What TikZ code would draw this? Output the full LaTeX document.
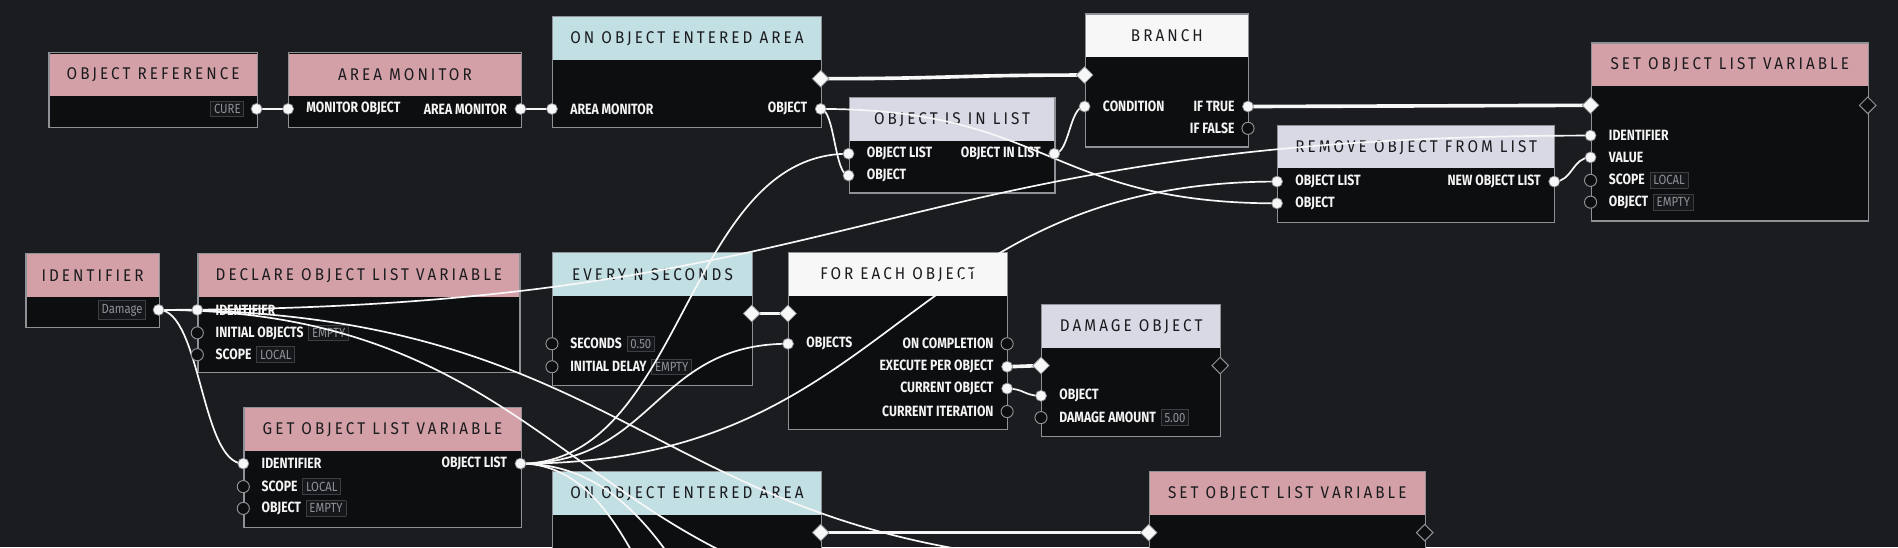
\documentclass[tikz,border=0pt]{standalone}
\usepackage{fontspec}
\usepackage{xcolor}
\usepackage{tikz}
\usetikzlibrary{positioning, shapes.geometric, calc}
\newfontfamily\titlefont[LetterSpace=18, FakeStretch=0.9]{Fira Sans}
\newfontfamily\pinfont[FakeStretch=0.82]{Fira Sans}
\newfontfamily\tagfont[FakeStretch=0.85]{Fira Sans}
\definecolor{Backdrop}{HTML}{1B1C1F}
\definecolor{Body}{HTML}{0D0E10}
\definecolor{Edge}{HTML}{8E9196}
\definecolor{Ink}{HTML}{1A1B1E}
\definecolor{Label}{HTML}{F4F4F4}
\definecolor{Wire}{HTML}{F7F7F7}
\definecolor{Rose}{HTML}{D4A0A8}
\definecolor{Ice}{HTML}{C2DFE3}
\definecolor{Lilac}{HTML}{D8D9E5}
\definecolor{Chalk}{HTML}{F7F7F7}
\definecolor{TagFill}{HTML}{16171A}
\definecolor{TagLine}{HTML}{3C3E42}
\definecolor{TagText}{HTML}{8F9196}
\newcommand\valtag[1]{{\setlength\fboxsep{2.3pt}\setlength\fboxrule{0.7pt}\fcolorbox{TagLine}{TagFill}{\tagfont\mdseries\fontsize{11}{11}\selectfont\color{TagText}#1}}}

\begin{document}
\begin{tikzpicture}[
  x=1pt, y=-1pt,
  card/.style={draw=Edge, fill=Body, line width=1pt, anchor=north west, inner sep=0pt},
  head/.style={anchor=north, inner sep=0pt, minimum height=35pt, text=Ink, font=\titlefont\fontsize{14}{14}\selectfont},
  inlbl/.style={inner sep=0pt, xshift=15pt, text=Label, font=\pinfont\bfseries\fontsize{12.3}{12.3}\selectfont},
  outlbl/.style={inner sep=0pt, xshift=-11pt, text=Label, font=\pinfont\bfseries\fontsize{12.3}{12.3}\selectfont},
  wire/.style={draw=Wire, line width=1.4pt, to path={let \p1=(\tikztostart), \p2=(\tikztotarget) in .. controls ({(\x1+\x2)/2},\y1) and ({(\x1+\x2)/2},\y2) .. (\tikztotarget)}},
  flow/.style={wire, line width=3pt},
  pin/.style={circle, fill=Wire, draw=Edge, line width=0.6pt, minimum size=9pt, inner sep=0pt},
  hole/.style={circle, fill=Body, draw=Edge, line width=0.8pt, minimum size=10pt, inner sep=0pt},
  gate/.style={diamond, fill=Wire, draw=Edge, line width=0.6pt, minimum size=14pt, inner sep=0pt},
  opengate/.style={diamond, fill=Body, draw=Edge, line width=0.8pt, minimum size=14pt, inner sep=0pt}
]
\useasboundingbox (0,0) rectangle (1568,452);
\clip (0,0) rectangle (1568,452);
\fill[Backdrop] (0,0) rectangle (1568,452);

% cards
\node[card, minimum width=172pt, minimum height=62pt] (objref) at (40,43) {};
\node[head, fill=Rose, minimum width=171pt] (objref-h) at ([yshift=-1pt]objref.north) {OBJECT REFERENCE};
\node[card, minimum width=192pt, minimum height=62pt] (areamon) at (238,43) {};
\node[head, fill=Rose, minimum width=191pt] (areamon-h) at ([yshift=-1pt]areamon.north) {AREA MONITOR};
\node[card, minimum width=222pt, minimum height=92pt] (enter1) at (456,13) {};
\node[head, fill=Ice, minimum width=221pt] (enter1-h) at ([yshift=-1pt]enter1.north) {ON OBJECT ENTERED AREA};
\node[card, minimum width=170pt, minimum height=79pt] (inlist) at (701,80) {};
\node[head, fill=Lilac, minimum width=169pt] (inlist-h) at ([yshift=-1pt]inlist.north) {OBJECT IS IN LIST};
\node[card, minimum width=135pt, minimum height=110pt] (branch) at (896,11) {};
\node[head, fill=Chalk, minimum width=134pt] (branch-h) at ([yshift=-1pt]branch.north) {BRANCH};
\node[card, minimum width=229pt, minimum height=80pt] (remove) at (1055,103) {};
\node[head, fill=Lilac, minimum width=228pt] (remove-h) at ([yshift=-1pt]remove.north) {REMOVE OBJECT FROM LIST};
\node[card, minimum width=229pt, minimum height=147pt] (set1) at (1314,35) {};
\node[head, fill=Rose, minimum width=228pt] (set1-h) at ([yshift=-1pt]set1.north) {SET OBJECT LIST VARIABLE};
\node[card, minimum width=110pt, minimum height=61pt] (ident) at (21,209) {};
\node[head, fill=Rose, minimum width=109pt] (ident-h) at ([yshift=-1pt]ident.north) {IDENTIFIER};
\node[card, minimum width=266pt, minimum height=98pt] (declare) at (163,209) {};
\node[head, fill=Rose, minimum width=265pt] (declare-h) at ([yshift=-1pt]declare.north) {DECLARE OBJECT LIST VARIABLE};
\node[card, minimum width=165pt, minimum height=110pt] (everyn) at (456,208) {};
\node[head, fill=Ice, minimum width=164pt] (everyn-h) at ([yshift=-1pt]everyn.north) {EVERY N SECONDS};
\node[card, minimum width=181pt, minimum height=146pt] (foreach) at (651,208) {};
\node[head, fill=Chalk, minimum width=180pt] (foreach-h) at ([yshift=-1pt]foreach.north) {FOR EACH OBJECT};
\node[card, minimum width=148pt, minimum height=109pt] (damage) at (860,251) {};
\node[head, fill=Lilac, minimum width=147pt] (damage-h) at ([yshift=-1pt]damage.north) {DAMAGE OBJECT};
\node[card, minimum width=229pt, minimum height=99pt] (getvar) at (201,336) {};
\node[head, fill=Rose, minimum width=228pt] (getvar-h) at ([yshift=-1pt]getvar.north) {GET OBJECT LIST VARIABLE};
\node[card, minimum width=222pt, minimum height=110pt] (enter2) at (456,389) {};
\node[head, fill=Ice, minimum width=221pt] (enter2-h) at ([yshift=-1pt]enter2.north) {ON OBJECT ENTERED AREA};
\node[card, minimum width=228pt, minimum height=150pt] (set2) at (949,389) {};
\node[head, fill=Rose, minimum width=227pt] (set2-h) at ([yshift=-1pt]set2.north) {SET OBJECT LIST VARIABLE};

% ports
\coordinate[label={[outlbl, xshift=1pt]left:\valtag{CURE}}] (objref-out) at (212,90);
\coordinate[label={[inlbl]right:MONITOR OBJECT}] (areamon-in) at (238,90);
\coordinate[label={[outlbl]left:AREA MONITOR}] (areamon-out) at (430,90);
\coordinate[label={[inlbl]right:AREA MONITOR}] (enter1-in) at (456,90);
\coordinate[label={[outlbl]left:OBJECT}] (enter1-obj) at (678,90);
\coordinate (enter1-exe) at (678,65);
\coordinate[label={[inlbl]right:OBJECT LIST}] (inlist-list) at (701,127);
\coordinate[label={[inlbl]right:OBJECT}] (inlist-obj) at (701,145);
\coordinate[label={[outlbl]left:OBJECT IN LIST}] (inlist-out) at (871,127);
\coordinate (branch-exe) at (896,62);
\coordinate[label={[inlbl]right:CONDITION}] (branch-cond) at (896,88);
\coordinate[label={[outlbl]left:IF TRUE}] (branch-true) at (1031,88);
\coordinate[label={[outlbl]left:IF FALSE}] (branch-false) at (1031,106);
\coordinate[label={[inlbl]right:OBJECT LIST}] (remove-list) at (1055,150);
\coordinate[label={[inlbl]right:OBJECT}] (remove-obj) at (1055,168);
\coordinate[label={[outlbl]left:NEW OBJECT LIST}] (remove-out) at (1284,150);
\coordinate (set1-exe) at (1314,87);
\coordinate (set1-next) at (1543,87);
\coordinate[label={[inlbl]right:IDENTIFIER}] (set1-id) at (1314,112);
\coordinate[label={[inlbl]right:VALUE}] (set1-val) at (1314,130);
\coordinate[label={[inlbl]right:SCOPE\hspace{4pt}\valtag{LOCAL}}] (set1-scope) at (1314,149);
\coordinate[label={[inlbl]right:OBJECT\hspace{4pt}\valtag{EMPTY}}] (set1-obj) at (1314,167);
\coordinate[label={[outlbl, xshift=1pt]left:\valtag{Damage}}] (ident-out) at (131,256);
\coordinate[label={[inlbl]right:IDENTIFIER}] (declare-id) at (163,256);
\coordinate[label={[inlbl]right:INITIAL OBJECTS\hspace{4pt}\valtag{EMPTY}}] (declare-init) at (163,275);
\coordinate[label={[inlbl]right:SCOPE\hspace{4pt}\valtag{LOCAL}}] (declare-scope) at (163,293);
\coordinate (everyn-exe) at (621,259);
\coordinate[label={[inlbl]right:SECONDS\hspace{4pt}\valtag{0.50}}] (everyn-sec) at (456,284);
\coordinate[label={[inlbl]right:INITIAL DELAY\hspace{4pt}\valtag{EMPTY}}] (everyn-delay) at (456,303);
\coordinate (foreach-exe) at (651,259);
\coordinate[label={[inlbl]right:OBJECTS}] (foreach-objs) at (651,284);
\coordinate[label={[outlbl]left:ON COMPLETION}] (foreach-done) at (832,284);
\coordinate[label={[outlbl]left:EXECUTE PER OBJECT}] (foreach-each) at (832,303);
\coordinate[label={[outlbl]left:CURRENT OBJECT}] (foreach-cur) at (832,321);
\coordinate[label={[outlbl]left:CURRENT ITERATION}] (foreach-iter) at (832,340);
\coordinate (damage-exe) at (860,302);
\coordinate (damage-next) at (1008,302);
\coordinate[label={[inlbl]right:OBJECT}] (damage-obj) at (860,327);
\coordinate[label={[inlbl]right:DAMAGE AMOUNT\hspace{4pt}\valtag{5.00}}] (damage-amt) at (860,345);
\coordinate[label={[inlbl]right:IDENTIFIER}] (getvar-id) at (201,383);
\coordinate[label={[inlbl]right:SCOPE\hspace{4pt}\valtag{LOCAL}}] (getvar-scope) at (201,402);
\coordinate[label={[inlbl]right:OBJECT\hspace{4pt}\valtag{EMPTY}}] (getvar-obj) at (201,420);
\coordinate[label={[outlbl]left:OBJECT LIST}] (getvar-out) at (430,383);
\coordinate (enter2-exe) at (678,440);
\coordinate (set2-exe) at (949,440);
\coordinate (set2-next) at (1177,440);
\coordinate (set2-id) at (949,466);
\coordinate (below-a) at (828,506);
\coordinate (below-b) at (664,628);
\coordinate (below-c) at (737,628);

% connections
\draw[wire] (objref-out) to (areamon-in);
\draw[wire] (areamon-out) to (enter1-in);
\draw[wire] (enter1-obj) to (inlist-obj);
\draw[wire] (enter1-obj) to (remove-obj);
\draw[wire] (inlist-out) to (branch-cond);
\draw[wire] (remove-out) to (set1-val);
\draw[wire] (ident-out) to (declare-id);
\draw[wire] (ident-out) to (getvar-id);
\draw[wire] (ident-out) to (set1-id);
\draw[wire] (ident-out) to (set2-id);
\draw[wire] (ident-out) to (below-a);
\draw[wire] (getvar-out) to (inlist-list);
\draw[wire] (getvar-out) to (foreach-objs);
\draw[wire] (getvar-out) to (remove-list);
\draw[wire] (getvar-out) to (below-b);
\draw[wire] (getvar-out) to (below-c);
\draw[wire] (foreach-cur) to (damage-obj);
\draw[flow] (enter1-exe) to (branch-exe);
\draw[flow] (branch-true) to (set1-exe);
\draw[flow] (everyn-exe) to (foreach-exe);
\draw[flow] (foreach-each) to (damage-exe);
\draw[flow] (enter2-exe) to (set2-exe);

% sockets
\foreach \p in {objref-out, areamon-in, areamon-out, enter1-in, enter1-obj, inlist-list, inlist-obj, inlist-out, branch-cond, branch-true, remove-list, remove-obj, remove-out, set1-id, set1-val, ident-out, declare-id, foreach-objs, foreach-each, foreach-cur, damage-obj, getvar-id, getvar-out}
  \node[pin] (pin-\p) at (\p) {};
\foreach \p in {branch-false, set1-scope, set1-obj, declare-init, declare-scope, everyn-sec, everyn-delay, foreach-done, foreach-iter, damage-amt, getvar-scope, getvar-obj}
  \node[hole] (hole-\p) at (\p) {};
\foreach \p in {enter1-exe, branch-exe, set1-exe, everyn-exe, foreach-exe, damage-exe, enter2-exe, set2-exe}
  \node[gate] (gate-\p) at (\p) {};
\foreach \p in {set1-next, damage-next, set2-next}
  \node[opengate] (gate-\p) at (\p) {};
\end{tikzpicture}
\end{document}
